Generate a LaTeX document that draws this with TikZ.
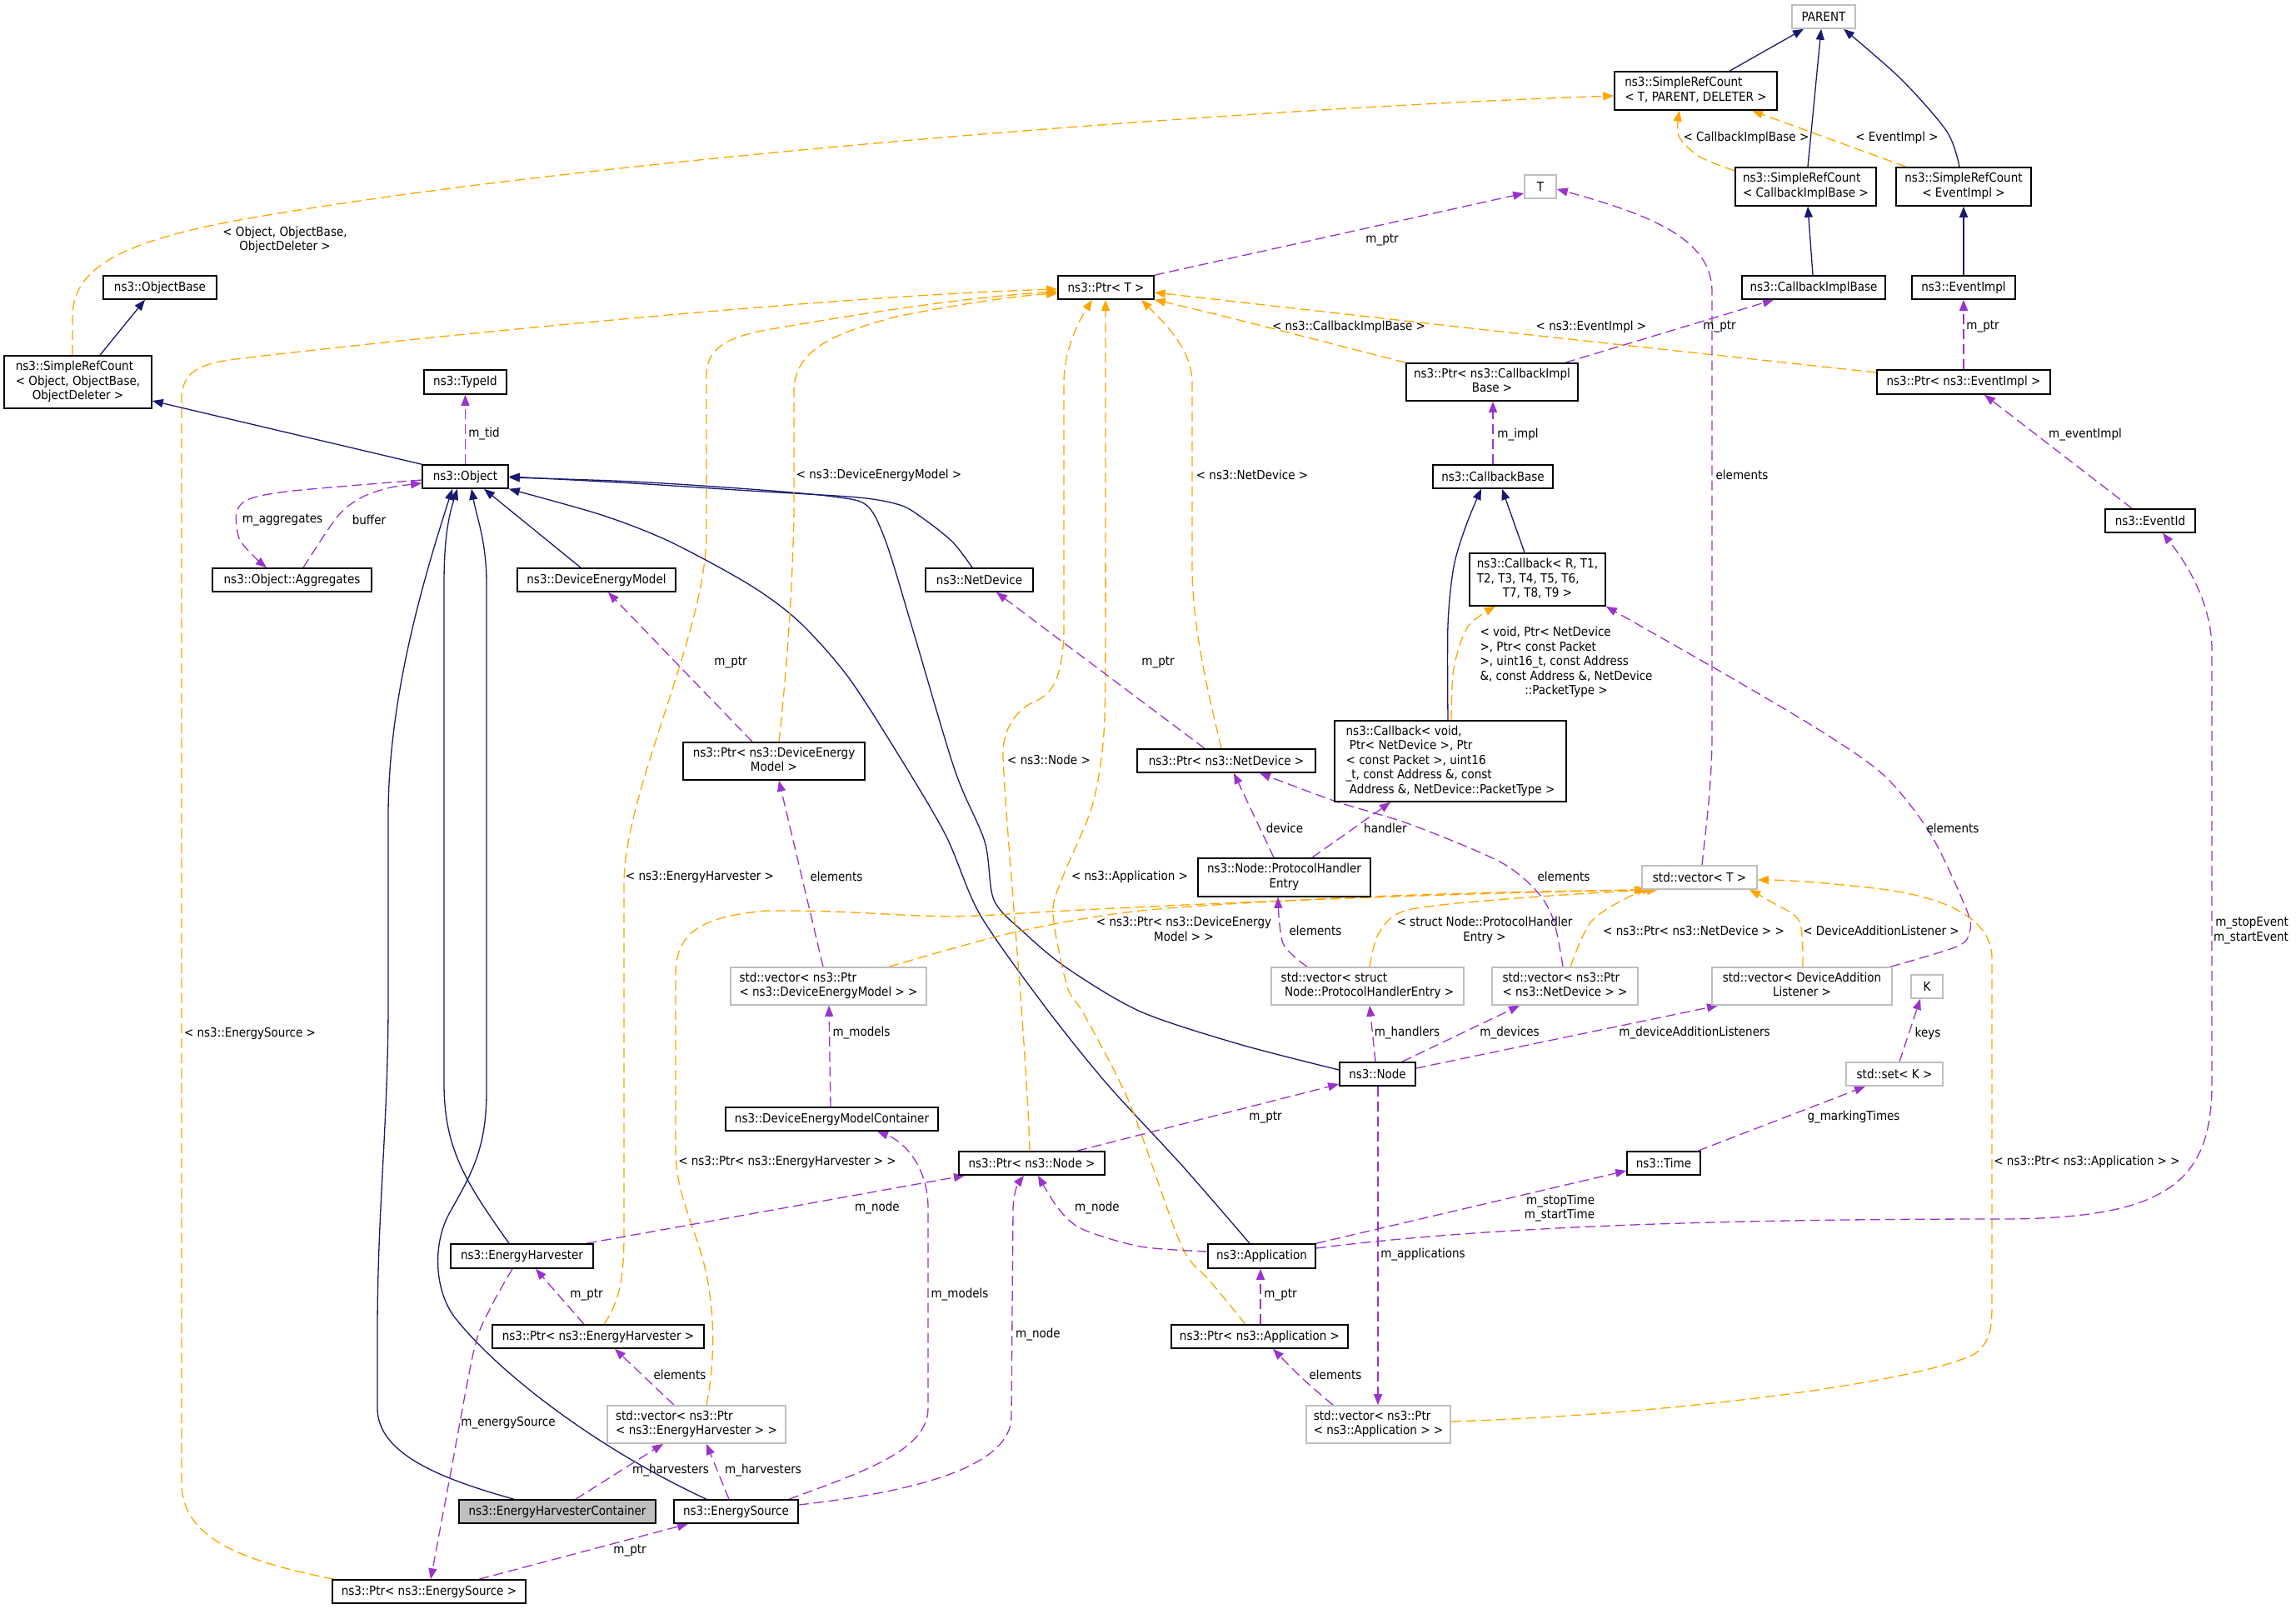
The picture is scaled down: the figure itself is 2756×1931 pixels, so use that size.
\documentclass[tikz,border=0pt]{standalone}
\usepackage{fontspec}
\setmainfont{DejaVu Sans Condensed}
\usetikzlibrary{arrows.meta}
\definecolor{inhc}{HTML}{191970}
\definecolor{tplc}{HTML}{FFA500}
\definecolor{usec}{HTML}{9A32CD}
\definecolor{extc}{HTML}{BFBFBF}
\definecolor{curc}{HTML}{BFBFBF}
\pgfdeclarelayer{edges}
\pgfsetlayers{edges,main}
\newcommand\mkbox[7]{\node[#1, minimum width={(#5-#3)*0.5pt}, minimum height={(#6-#4)*0.5pt}] (#2) at ({(#3+#5)/2},{(#4+#6)/2}) {#7};}
\newcommand\mlines[2]{\begin{tabular}{@{}l@{}}#1\\\multicolumn{1}{@{}c@{}}{#2}\end{tabular}}
\begin{document}
\begin{tikzpicture}[x=0.5pt,y=-0.5pt,
  txtbase/.style={font=\fontsize{7.5}{8.75}\selectfont, inner sep=0pt, align=center},
  clsbox/.style={txtbase, draw=black, fill=white, line width=0.8pt},
  extbox/.style={txtbase, draw=extc, fill=white, line width=0.8pt},
  curbox/.style={txtbase, draw=black, fill=curc, line width=0.8pt},
  lbltxt/.style={txtbase},
  >={Triangle[length=6.5pt,width=5pt]},
  inh/.style={draw=inhc, line width=0.65pt, ->},
  tpl/.style={draw=tplc, line width=0.65pt, dash pattern=on 6pt off 3pt, ->},
  usg/.style={draw=usec, line width=0.65pt, dash pattern=on 6pt off 3pt, ->}]
\useasboundingbox (0,0) rectangle (2756,1931);
% ---------------- nodes ----------------
\mkbox{extbox}{par}{2151}{6}{2227}{34}{PARENT}
\mkbox{clsbox}{srcT}{1938}{86}{2133}{132}{\mlines{ns3::SimpleRefCount}{< T, PARENT, DELETER >}}
\mkbox{clsbox}{srcCIB}{2083}{201}{2252}{247}{\mlines{ns3::SimpleRefCount}{< CallbackImplBase >}}
\mkbox{clsbox}{srcEI}{2276}{201}{2438}{247}{\mlines{ns3::SimpleRefCount}{< EventImpl >}}
\mkbox{extbox}{T}{1830}{210}{1868}{238}{T}
\mkbox{clsbox}{cib}{2091}{331}{2263}{359}{ns3::CallbackImplBase}
\mkbox{clsbox}{ei}{2295}{331}{2419}{359}{ns3::EventImpl}
\mkbox{clsbox}{ptrT}{1270}{331}{1385}{359}{ns3::Ptr< T >}
\mkbox{clsbox}{objb}{124}{331}{260}{359}{ns3::ObjectBase}
\mkbox{clsbox}{srcO}{5}{427}{182}{490}{\mlines{ns3::SimpleRefCount\\< Object, ObjectBase,}{ObjectDeleter >}}
\mkbox{clsbox}{ptrCIB}{1688}{436}{1894}{481}{\mlines{ns3::Ptr< ns3::CallbackImpl}{Base >}}
\mkbox{clsbox}{ptrEI}{2253}{444}{2461}{473}{ns3::Ptr< ns3::EventImpl >}
\mkbox{clsbox}{typeid}{509}{444}{608}{473}{ns3::TypeId}
\mkbox{clsbox}{obj}{507}{558}{610}{586}{ns3::Object}
\mkbox{clsbox}{cbb}{1720}{558}{1864}{586}{ns3::CallbackBase}
\mkbox{clsbox}{eid}{2527}{611}{2635}{639}{ns3::EventId}
\mkbox{clsbox}{agg}{255}{682}{446}{710}{ns3::Object::Aggregates}
\mkbox{clsbox}{dem}{621}{682}{811}{710}{ns3::DeviceEnergyModel}
\mkbox{clsbox}{nd}{1111}{682}{1240}{710}{ns3::NetDevice}
\mkbox{clsbox}{cbR}{1764}{664}{1927}{727}{\mlines{ns3::Callback< R, T1,\\T2, T3, T4, T5, T6,}{T7, T8, T9 >}}
\mkbox{clsbox}{cbV}{1602}{865}{1880}{962}{\mlines{ns3::Callback< void,\\\ Ptr< NetDevice >, Ptr\\< const Packet >, uint16\\\_t, const Address \&, const}{\ Address \&, NetDevice::PacketType >}}
\mkbox{clsbox}{ptrDEM}{820}{891}{1038}{936}{\mlines{ns3::Ptr< ns3::DeviceEnergy}{Model >}}
\mkbox{clsbox}{ptrND}{1365}{899}{1579}{927}{ns3::Ptr< ns3::NetDevice >}
\mkbox{clsbox}{phe}{1438}{1030}{1645}{1076}{\mlines{ns3::Node::ProtocolHandler}{Entry}}
\mkbox{extbox}{vecT}{1971}{1039}{2109}{1067}{std::vector< T >}
\mkbox{extbox}{vDEM}{877}{1161}{1112}{1206}{\mlines{std::vector< ns3::Ptr}{< ns3::DeviceEnergyModel > >}}
\mkbox{extbox}{vPHE}{1526}{1161}{1757}{1206}{\mlines{std::vector< struct}{\ Node::ProtocolHandlerEntry >}}
\mkbox{extbox}{vND}{1791}{1161}{1966}{1206}{\mlines{std::vector< ns3::Ptr}{< ns3::NetDevice > >}}
\mkbox{extbox}{vDAL}{2055}{1161}{2271}{1206}{\mlines{std::vector< DeviceAddition}{Listener >}}
\mkbox{extbox}{K}{2294}{1170}{2332}{1198}{K}
\mkbox{clsbox}{node}{1608}{1275}{1699}{1303}{ns3::Node}
\mkbox{extbox}{setK}{2216}{1275}{2332}{1303}{std::set< K >}
\mkbox{clsbox}{demc}{871}{1329}{1126}{1357}{ns3::DeviceEnergyModelContainer}
\mkbox{clsbox}{ptrNode}{1151}{1382}{1326}{1410}{ns3::Ptr< ns3::Node >}
\mkbox{clsbox}{time}{1953}{1382}{2041}{1410}{ns3::Time}
\mkbox{clsbox}{eh}{541}{1493}{712}{1522}{ns3::EnergyHarvester}
\mkbox{clsbox}{app}{1450}{1493}{1579}{1522}{ns3::Application}
\mkbox{clsbox}{ptrEH}{591}{1590}{845}{1618}{ns3::Ptr< ns3::EnergyHarvester >}
\mkbox{clsbox}{ptrApp}{1406}{1590}{1618}{1618}{ns3::Ptr< ns3::Application >}
\mkbox{extbox}{vEH}{729}{1687}{943}{1732}{\mlines{std::vector< ns3::Ptr}{< ns3::EnergyHarvester > >}}
\mkbox{extbox}{vApp}{1568}{1687}{1741}{1732}{\mlines{std::vector< ns3::Ptr}{< ns3::Application > >}}
\mkbox{curbox}{ehc}{551}{1800}{787}{1828}{ns3::EnergyHarvesterContainer}
\mkbox{clsbox}{es}{809}{1800}{958}{1828}{ns3::EnergySource}
\mkbox{clsbox}{ptrES}{399}{1896}{631}{1924}{ns3::Ptr< ns3::EnergySource >}
% ---------------- edges ----------------
\begin{pgfonlayer}{edges}
% inheritance
\draw[inh] (srcO.north -| 120,0) -- (objb.south -| 174,0);
\draw[inh] (obj.north west) -- (srcO.east |- 0,481);
\draw[inh] (dem.north -| 697,0) -- (obj.south -| 581,0);
\draw[inh] plot[smooth] coordinates {(nd.north -| 1167,0) (1143,650) (1105,620) (1080,606) (1030,597) (900,589) (760,580) (obj.east |- 0,572)};
\draw[inh] plot[smooth] coordinates {(node.west |- 0,1284) (1487,1253) (1369,1214) (1281,1162) (1229,1119) (1193,1080) (1182,1010) (1146,924) (1094,750) (1064,652) (1041,607) (1000,596) (900,587) (760,578) (obj.east |- 0,573)};
\draw[inh] plot[smooth] coordinates {(app.north -| 1500,0) (1420,1400) (1328,1300) (1252,1205) (1176,1097) (1135,1002) (1076,902) (1017,811) (959,746) (900,702) (804,650) (722,618) (obj.south east)};
\draw[inh] (eh.north -| 611,0) .. controls (560,1420) and (533,1380) .. (533,1300) -- (533,700) .. controls (533,640) and (540,615) .. (obj.south -| 549,0);
\draw[inh] (es.north -| 848,0) .. controls (720,1740) and (600,1650) .. (545,1580) .. controls (520,1545) and (520,1490) .. (540,1455) .. controls (565,1410) and (584,1380) .. (584,1310) -- (584,700) .. controls (584,650) and (572,620) .. (obj.south -| 566,0);
\draw[inh] (ehc.north -| 617,0) .. controls (530,1775) and (453,1745) .. (453,1690) -- (453,1600) .. controls (453,1450) and (466,1350) .. (466,1200) -- (466,980) .. controls (466,850) and (500,720) .. (obj.south -| 543,0);
\draw[inh] (srcT.north -| 2076,0) -- (par.south -| 2165,0);
\draw[inh] (srcCIB.north -| 2170,0) -- (par.south -| 2186,0);
\draw[inh] plot[smooth] coordinates {(srcEI.north -| 2352,0) (2337,158) (2282,95) (par.south -| 2213,0)};
\draw[inh] (cib.north -| 2176,0) -- (srcCIB.south -| 2170,0);
\draw[inh] (ei.north) -- (srcEI.south);
\draw[inh] (cbR.north -| 1830,0) -- (cbb.south -| 1803,0);
\draw[inh] plot[smooth] coordinates {(cbV.north -| 1738,0) (1738,750) (1745,680) (1760,630) (cbb.south -| 1778,0)};
% template instances
\draw[tpl] (srcO.north -| 87,0) -- (87,380) .. controls (87,320) and (150,290) .. (282,265) .. controls (700,190) and (1500,130) .. (srcT.west |- 0,115);
\draw[tpl] plot[smooth] coordinates {(srcCIB.west |- 0,205) (2040,188) (2015,163) (srcT.south -| 2016,0)};
\draw[tpl] (srcEI.north -| 2288,0) -- (srcT.south -| 2103,0);
\draw[tpl] (ptrES.north -| 401,0) .. controls (300,1875) and (218,1850) .. (218,1780) -- (218,480) .. controls (218,445) and (240,437) .. (282,431) .. controls (500,405) and (1000,355) .. (ptrT.west |- 0,347);
\draw[tpl] (ptrEH.north -| 725,0) .. controls (745,1560) and (749,1530) .. (749,1480) -- (749,1060) .. controls (749,950) and (848,760) .. (848,640) -- (848,450) .. controls (848,420) and (870,405) .. (920,396) .. controls (1000,382) and (1150,357) .. (ptrT.west |- 0,350);
\draw[tpl] (ptrDEM.north -| 935,0) .. controls (945,800) and (953,680) .. (953,600) -- (953,470) .. controls (953,420) and (1000,400) .. (1076,380) .. controls (1150,365) and (1220,355) .. (ptrT.west |- 0,352);
\draw[tpl] (ptrNode.north -| 1236,0) .. controls (1232,1250) and (1208,1000) .. (1204,910) .. controls (1202,870) and (1225,848) .. (1246,840) .. controls (1268,830) and (1277,800) .. (1277,750) -- (1277,460) .. controls (1277,420) and (1295,385) .. (ptrT.south -| 1311,0);
\draw[tpl] plot[smooth] coordinates {(ptrApp.north -| 1495,0) (1452,1537) (1428,1512) (1410,1475) (1363,1342) (1340,1290) (1300,1215) (1281,1184) (1264,1097) (1275,1054) (1311,967) (1325,880) (1327,750) (1327,620) (1327,490) (ptrT.south -| 1327,0)};
\draw[tpl] (ptrND.north -| 1466,0) .. controls (1455,850) and (1431,760) .. (1431,680) -- (1431,460) .. controls (1431,420) and (1400,390) .. (ptrT.south -| 1370,0);
\draw[tpl] plot[smooth] coordinates {(ptrCIB.north west) (1475,381) (ptrT.south east)};
\draw[tpl] plot[smooth] coordinates {(ptrEI.west |- 0,447) (1820,400) (ptrT.east |- 0,351)};
\draw[tpl] plot[smooth] coordinates {(cbV.north -| 1742,0) (1745,802) (1762,752) (cbR.south -| 1795,0)};
\draw[tpl] plot[smooth] coordinates {(vDEM.north -| 1067,0) (1217,1119) (1369,1093) (1600,1078) (1800,1071) (vecT.south -| 1985,0)};
\draw[tpl] plot[smooth] coordinates {(vPHE.north -| 1644,0) (1655,1120) (1690,1092) (1820,1078) (vecT.south -| 1978,0)};
\draw[tpl] plot[smooth] coordinates {(vND.north -| 1885,0) (1910,1106) (1958,1075) (vecT.south -| 1990,0)};
\draw[tpl] plot[smooth] coordinates {(vDAL.north -| 2164,0) (2160,1106) (2129,1084) (vecT.south -| 2100,0)};
\draw[tpl] (vApp.east |- 0,1706) .. controls (2000,1698) and (2300,1660) .. (2370,1625) .. controls (2391,1610) and (2391,1590) .. (2391,1560) -- (2391,1150) .. controls (2391,1100) and (2330,1075) .. (2250,1066) .. controls (2180,1058) and (2140,1056) .. (vecT.east |- 0,1056);
\draw[tpl] (vEH.north -| 848,0) .. controls (855,1650) and (860,1600) .. (850,1540) .. controls (840,1480) and (811,1440) .. (811,1380) -- (811,1170) .. controls (811,1120) and (840,1100) .. (920,1093) .. controls (1050,1092) and (1100,1104) .. (1193,1098) .. controls (1400,1085) and (1750,1072) .. (vecT.south -| 1975,0);
% usage
\draw[usg] (obj.north) -- (typeid.south);
\draw[usg] plot[smooth] coordinates {(obj.west |- 0,576) (352,589) (299,599) (284,615) (287,646) (305,668) (agg.north -| 320,0)};
\draw[usg] plot[smooth] coordinates {(agg.north -| 364,0) (405,620) (434,597) (469,585) (obj.west |- 0,580)};
\draw[usg] (ptrT.north east) -- (T.west |- 0,232);
\draw[usg] (ptrDEM.north -| 903,0) -- (dem.south -| 730,0);
\draw[usg] (ptrND.north -| 1446,0) -- (nd.south -| 1196,0);
\draw[usg] (ptrCIB.north -| 1879,0) -- (cib.south -| 2129,0);
\draw[usg] (ptrEI.north) -- (ei.south);
\draw[usg] (cbb.north) -- (ptrCIB.south -| 1792,0);
\draw[usg] (eid.north -| 2559,0) -- (ptrEI.south -| 2382,0);
\draw[usg] (vecT.north -| 2043,0) .. controls (2048,990) and (2055,940) .. (2055,880) -- (2055,350) .. controls (2055,290) and (1990,260) .. (T.east |- 0,227);
\draw[usg] (vDEM.north -| 988,0) -- (ptrDEM.south -| 935,0);
\draw[usg] (phe.north -| 1529,0) -- (ptrND.south -| 1481,0);
\draw[usg] (phe.north -| 1575,0) -- (cbV.south -| 1669,0);
\draw[usg] plot[smooth] coordinates {(vPHE.north -| 1569,0) (1540,1132) (phe.south -| 1534,0)};
\draw[usg] plot[smooth] coordinates {(vND.north -| 1876,0) (1865,1105) (1845,1070) (1800,1034) (1692,989) (1604,962) (ptrND.south -| 1512,0)};
\draw[usg] plot[smooth] coordinates {(vDAL.north -| 2269,0) (2349,1136) (2364,1119) (2361,1093) (2318,1002) (2263,932) (2190,880) (2074,811) (cbR.south east)};
\draw[usg] (node.north -| 1651,0) -- (vPHE.south -| 1644,0);
\draw[usg] (node.north -| 1683,0) -- (vND.south -| 1824,0);
\draw[usg] (node.east |- 0,1282) -- (vDAL.south -| 2062,0);
\draw[usg] (node.south -| 1654,0) -- (vApp.north -| 1654,0);
\draw[usg] (setK.north -| 2280,0) -- (K.south -| 2305,0);
\draw[usg] (time.north -| 2038,0) -- (setK.south -| 2239,0);
\draw[usg] (app.north east) -- (time.west |- 0,1405);
\draw[usg] (app.east |- 0,1498) .. controls (1800,1470) and (2100,1463) .. (2400,1463) .. controls (2600,1463) and (2655,1420) .. (2655,1300) -- (2655,780) .. controls (2655,720) and (2620,670) .. (eid.south -| 2596,0);
\draw[usg] plot[smooth] coordinates {(app.west |- 0,1502) (1369,1496) (1299,1475) (1270,1450) (ptrNode.south -| 1246,0)};
\draw[usg] (ptrNode.north -| 1293,0) -- (node.west |- 0,1301);
\draw[usg] (ptrApp.north -| 1513,0) -- (app.south -| 1513,0);
\draw[usg] plot[smooth] coordinates {(vApp.north -| 1600,0) (1563,1654) (ptrApp.south -| 1528,0)};
\draw[usg] (demc.north -| 997,0) -- (vDEM.south -| 995,0);
\draw[usg] (es.north -| 947,0) .. controls (1040,1765) and (1114,1740) .. (1114,1690) -- (1114,1450) .. controls (1114,1400) and (1085,1370) .. (demc.south -| 1053,0);
\draw[usg] (eh.north -| 704,0) -- (ptrNode.south -| 1158,0);
\draw[usg] (es.east |- 0,1806) .. controls (1100,1790) and (1214,1760) .. (1214,1700) -- (1216,1450) .. controls (1217,1430) and (1222,1420) .. (ptrNode.south -| 1229,0);
\draw[usg] plot[smooth] coordinates {(eh.south -| 615,0) (588,1571) (569,1620) (539,1778) (ptrES.north -| 517,0)};
\draw[usg] (ptrEH.north -| 701,0) -- (eh.south -| 643,0);
\draw[usg] (vEH.north -| 809,0) -- (ptrEH.south -| 738,0);
\draw[usg] (ehc.north -| 691,0) -- (vEH.south -| 796,0);
\draw[usg] (es.north -| 875,0) -- (vEH.south -| 848,0);
\draw[usg] (ptrES.north -| 575,0) -- (es.south -| 826,0);
\end{pgfonlayer}
% ---------------- labels ----------------
\node[lbltxt] (l01) at (342,288) {< Object, ObjectBase,\\ObjectDeleter >};
\node[lbltxt] (l02) at (581,521) {m\_tid};
\node[lbltxt] (l03) at (339,624) {m\_aggregates};
\node[lbltxt] (l04) at (443,624) {buffer};
\node[lbltxt] (l05) at (1659,288) {m\_ptr};
\node[lbltxt] (l06) at (1619,392) {< ns3::CallbackImplBase >};
\node[lbltxt] (l07) at (1910,392) {< ns3::EventImpl >};
\node[lbltxt] (l08) at (2064,392) {m\_ptr};
\node[lbltxt] (l09) at (2380,392) {m\_ptr};
\node[lbltxt] (l10) at (2096,165) {< CallbackImplBase >};
\node[lbltxt] (l11) at (2277,165) {< EventImpl >};
\node[lbltxt] (l12) at (1822,522) {m\_impl};
\node[lbltxt] (l13) at (2503,522) {m\_eventImpl};
\node[lbltxt] (l14) at (2091,570) {elements};
\node[lbltxt] (l15) at (1055,570) {< ns3::DeviceEnergyModel >};
\node[lbltxt] (l16) at (1503,570) {< ns3::NetDevice >};
\node[lbltxt] (l17) at (877,795) {m\_ptr};
\node[lbltxt] (l18) at (1390,795) {m\_ptr};
\node[lbltxt] (l19) at (1880,795) {\mlines{< void, Ptr< NetDevice\\>, Ptr< const Packet\\>, uint16\_t, const Address\\\&, const Address \&, NetDevice}{::PacketType >}};
\node[lbltxt] (l20) at (1259,912) {< ns3::Node >};
\node[lbltxt] (l21) at (1542,994) {device};
\node[lbltxt] (l22) at (1663,994) {handler};
\node[lbltxt] (l23) at (2344,994) {elements};
\node[lbltxt] (l24) at (840,1052) {< ns3::EnergyHarvester >};
\node[lbltxt] (l25) at (1004,1052) {elements};
\node[lbltxt] (l26) at (1356,1052) {< ns3::Application >};
\node[lbltxt] (l27) at (1877,1052) {elements};
\node[lbltxt] (l28) at (1421,1117) {\mlines{< ns3::Ptr< ns3::DeviceEnergy}{Model > >}};
\node[lbltxt] (l29) at (1579,1117) {elements};
\node[lbltxt] (l30) at (1782,1117) {\mlines{< struct Node::ProtocolHandler}{Entry >}};
\node[lbltxt] (l31) at (2033,1117) {< ns3::Ptr< ns3::NetDevice > >};
\node[lbltxt] (l32) at (2258,1117) {< DeviceAdditionListener >};
\node[lbltxt, align=right] (l33) at (2702,1117) {m\_stopEvent\\m\_startEvent};
\node[lbltxt] (l34) at (300,1240) {< ns3::EnergySource >};
\node[lbltxt] (l35) at (1034,1240) {m\_models};
\node[lbltxt] (l36) at (1689,1240) {m\_handlers};
\node[lbltxt] (l37) at (1812,1240) {m\_devices};
\node[lbltxt] (l38) at (2034,1240) {m\_deviceAdditionListeners};
\node[lbltxt] (l39) at (2314,1240) {keys};
\node[lbltxt] (l40) at (1519,1341) {m\_ptr};
\node[lbltxt] (l41) at (2225,1341) {g\_markingTimes};
\node[lbltxt] (l42) at (945,1394) {< ns3::Ptr< ns3::EnergyHarvester > >};
\node[lbltxt] (l43) at (2505,1394) {< ns3::Ptr< ns3::Application > >};
\node[lbltxt] (l44) at (1053,1450) {m\_node};
\node[lbltxt] (l45) at (1317,1450) {m\_node};
\node[lbltxt, align=right] (l46) at (1872,1450) {m\_stopTime\\m\_startTime};
\node[lbltxt] (l47) at (1708,1506) {m\_applications};
\node[lbltxt] (l48) at (704,1554) {m\_ptr};
\node[lbltxt] (l49) at (1152,1554) {m\_models};
\node[lbltxt] (l50) at (1537,1554) {m\_ptr};
\node[lbltxt] (l51) at (1246,1602) {m\_node};
\node[lbltxt] (l52) at (816,1650) {elements};
\node[lbltxt] (l53) at (1603,1650) {elements};
\node[lbltxt] (l54) at (610,1708) {m\_energySource};
\node[lbltxt] (l55) at (805,1765) {m\_harvesters};
\node[lbltxt] (l56) at (916,1765) {m\_harvesters};
\node[lbltxt] (l57) at (756,1861) {m\_ptr};
\end{tikzpicture}
\end{document}
